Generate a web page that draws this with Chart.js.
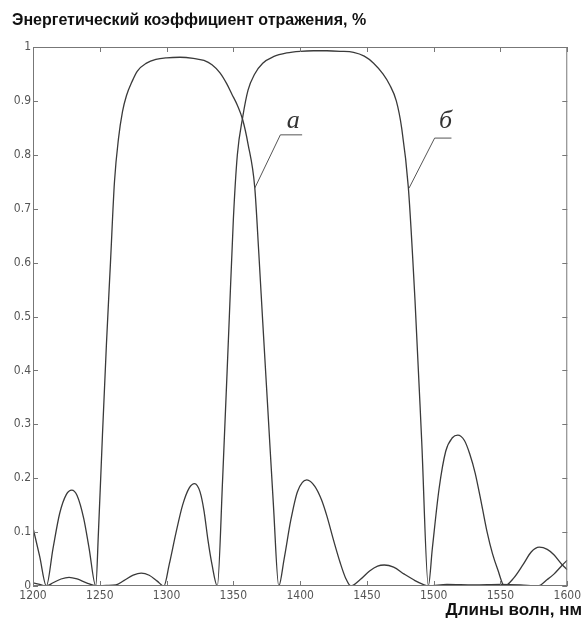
<!DOCTYPE html>
<html>
<head>
<meta charset="utf-8">
<script src="https://cdn.jsdelivr.net/npm/chart.js@4/dist/chart.umd.min.js"></script>
<style>
  html, body { margin: 0; padding: 0; background: #fff; }
  canvas { display: block; }
</style>
</head>
<body>
<canvas id="reflChart" width="584" height="621"></canvas>
<script>
// Spectral reflectance of two mirrors (curves "а" and "б")

const waveA = [1200, 1205, 1210, 1215, 1220, 1225, 1229, 1233, 1238, 1242, 1247,
  1249, 1252, 1255, 1258, 1261, 1264, 1267, 1270, 1274, 1278, 1285, 1292, 1300, 1310, 1320,
  1328, 1334, 1340, 1345, 1349, 1353, 1357, 1361, 1366, 1369, 1372, 1376, 1380, 1384,
  1388, 1393, 1398, 1405, 1411, 1416, 1420, 1425, 1430, 1434, 1438,
  1445, 1452, 1458, 1463, 1470, 1478, 1486, 1492, 1496,
  1510, 1530, 1550, 1565, 1578, 1585, 1590, 1596, 1600];
const reflA = [0.108, 0.055, 0.0, 0.07, 0.135, 0.17, 0.178, 0.168, 0.125, 0.07, 0.0,
  0.1, 0.28, 0.45, 0.6, 0.75, 0.83, 0.88, 0.91, 0.935, 0.955, 0.97, 0.977, 0.98, 0.981, 0.979,
  0.975, 0.967, 0.952, 0.932, 0.912, 0.892, 0.865, 0.82, 0.74, 0.62, 0.49, 0.32, 0.15, 0.0,
  0.05, 0.122, 0.175, 0.197, 0.185, 0.16, 0.13, 0.085, 0.043, 0.015, 0.0,
  0.012, 0.028, 0.037, 0.039, 0.035, 0.022, 0.01, 0.003, 0.0,
  0.003, 0.002, 0.003, 0.002, 0.0, 0.012, 0.022, 0.038, 0.048];

const waveB = [1200, 1205, 1210, 1215, 1221, 1227, 1233, 1240, 1248, 1255, 1262, 1268, 1275, 1281, 1287, 1293, 1298,
  1302, 1307, 1312, 1317, 1321, 1325, 1328, 1331, 1334, 1338,
  1342, 1347, 1350, 1353, 1357, 1361, 1366, 1372, 1380, 1390, 1400, 1410, 1420, 1430, 1440,
  1448, 1455, 1462, 1467, 1472, 1476, 1481, 1486, 1491, 1496,
  1499, 1504, 1509, 1514, 1518, 1523, 1527, 1531, 1536, 1540, 1544, 1548, 1553,
  1560, 1567, 1573, 1579, 1585, 1590, 1596, 1600];
const reflB = [0.006, 0.003, 0.0, 0.006, 0.013, 0.016, 0.013, 0.006, 0.0, 0.001, 0.002, 0.01, 0.02, 0.024, 0.02, 0.009, 0.0,
  0.04, 0.098, 0.15, 0.182, 0.19, 0.175, 0.14, 0.085, 0.04, 0.0,
  0.2, 0.5, 0.68, 0.8, 0.87, 0.92, 0.95, 0.97, 0.982, 0.989, 0.992, 0.993, 0.993, 0.992, 0.99,
  0.983, 0.97, 0.95, 0.93, 0.9, 0.85, 0.74, 0.53, 0.27, 0.0,
  0.07, 0.18, 0.25, 0.275, 0.28, 0.27, 0.245, 0.21, 0.15, 0.1, 0.06, 0.03, 0.0,
  0.015, 0.04, 0.063, 0.072, 0.068, 0.058, 0.04, 0.03];

const xTicks = [1200, 1250, 1300, 1350, 1400, 1450, 1500, 1550, 1600];
const yTickLabels = ['0', '0.1', '0.2', '0.3', '0.4', '0.5', '0.6', '0.7', '0.8', '0.9', '1'];

// leader lines for the curve labels, in data units
const labelA = { text: 'а', at: [1394.8, 0.85], path: [[1366, 0.738], [1385.2, 0.837], [1401.5, 0.837]] };
const labelB = { text: 'б', at: [1508.9, 0.85], path: [[1481.5, 0.738], [1500.7, 0.831], [1513.3, 0.831]] };

const tickFont = { family: "'Liberation Sans Narrow', 'DejaVu Sans Condensed', 'Liberation Sans', sans-serif", size: 12 };

function toPoints(xs, ys) {
    return xs.map((x, i) => ({ x: x, y: ys[i] }));
}

const frameAndText = {
    id: 'frameAndText',
    afterDatasetsDraw(chart) {
        const ctx = chart.ctx;
        const area = chart.chartArea;
        const sx = chart.scales.x;
        const sy = chart.scales.y;
        const tick = 5;

        ctx.save();
        // box
        ctx.strokeStyle = '#777';
        ctx.lineWidth = 1;
        ctx.strokeRect(area.left + 0.5, area.top + 0.5, area.right - area.left - 1, area.bottom - area.top - 1);

        // inward ticks on all four sides
        ctx.beginPath();
        xTicks.forEach(v => {
            const px = Math.round(sx.getPixelForValue(v)) + 0.5;
            ctx.moveTo(px, area.bottom); ctx.lineTo(px, area.bottom - tick);
            ctx.moveTo(px, area.top); ctx.lineTo(px, area.top + tick);
        });
        yTickLabels.forEach((l, i) => {
            const py = Math.round(sy.getPixelForValue(i / 10)) + 0.5;
            ctx.moveTo(area.left, py); ctx.lineTo(area.left + tick, py);
            ctx.moveTo(area.right, py); ctx.lineTo(area.right - tick, py);
        });
        ctx.stroke();

        // curve labels
        [labelA, labelB].forEach(lb => {
            ctx.strokeStyle = '#555';
            ctx.lineWidth = 1;
            ctx.beginPath();
            lb.path.forEach((p, i) => {
                const px = sx.getPixelForValue(p[0]);
                const py = sy.getPixelForValue(p[1]);
                if (i === 0) ctx.moveTo(px, py); else ctx.lineTo(px, py);
            });
            ctx.stroke();
            ctx.fillStyle = '#333';
            ctx.font = "italic 26px 'Liberation Serif', 'DejaVu Serif', serif";
            ctx.textAlign = 'center';
            ctx.textBaseline = 'alphabetic';
            ctx.fillText(lb.text, sx.getPixelForValue(lb.at[0]), sy.getPixelForValue(lb.at[1]));
        });

        // titles
        ctx.fillStyle = '#111';
        ctx.font = "bold 16px 'Liberation Sans', Arial, sans-serif";
        ctx.textAlign = 'left';
        ctx.fillText('Энергетический коэффициент отражения, %', 12, 25);
        ctx.font = "bold 17px 'Liberation Sans', Arial, sans-serif";
        ctx.textAlign = 'right';
        ctx.fillText('Длины волн, нм', 582, 615);
        ctx.restore();
    }
};

new Chart(document.getElementById('reflChart').getContext('2d'), {
    type: 'line',
    data: {
        datasets: [
            {
                label: 'а',
                data: toPoints(waveA, reflA),
                borderColor: '#3a3a3a',
                borderWidth: 1.3,
                pointRadius: 0,
                cubicInterpolationMode: 'monotone',
                fill: false
            },
            {
                label: 'б',
                data: toPoints(waveB, reflB),
                borderColor: '#3a3a3a',
                borderWidth: 1.3,
                pointRadius: 0,
                cubicInterpolationMode: 'monotone',
                fill: false
            }
        ]
    },
    options: {
        responsive: false,
        animation: false,
        devicePixelRatio: 1,
        layout: { padding: { top: 47, right: 11, left: 0, bottom: 0 } },
        plugins: {
            legend: { display: false },
            tooltip: { enabled: false }
        },
        scales: {
            x: {
                type: 'linear',
                min: 1200,
                max: 1600,
                afterFit: s => { s.height = 35; },
                grid: { display: false, drawTicks: false },
                border: { display: false },
                ticks: {
                    stepSize: 50,
                    autoSkip: false,
                    maxRotation: 0,
                    padding: 3,
                    color: '#555',
                    font: tickFont,
                    callback: v => xTicks.includes(v) ? String(v) : ''
                }
            },
            y: {
                min: 0,
                max: 1,
                afterFit: s => { s.width = 33; },
                grid: { display: false, drawTicks: false },
                border: { display: false },
                ticks: {
                    stepSize: 0.1,
                    autoSkip: false,
                    padding: 2,
                    color: '#555',
                    font: tickFont,
                    callback: v => yTickLabels[Math.round(v * 10)]
                }
            }
        }
    },
    plugins: [frameAndText]
});
</script>
</body>
</html>
